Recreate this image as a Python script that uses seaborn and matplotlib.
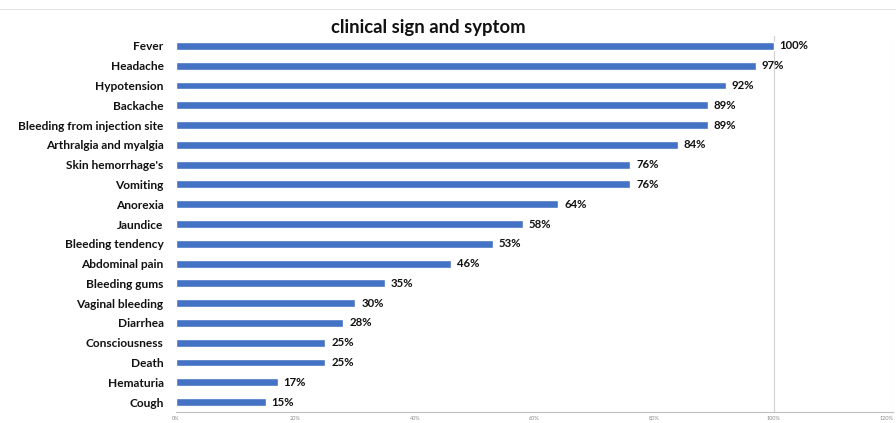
import matplotlib
matplotlib.use("Agg")
import matplotlib.pyplot as plt
from matplotlib.lines import Line2D
import seaborn as sns
import pandas as pd

symptoms = [
    "Fever", "Headache", "Hypotension", "Backache", "Bleeding from injection site",
    "Arthralgia and myalgia", "Skin hemorrhage's", "Vomiting", "Anorexia", "Jaundice",
    "Bleeding tendency", "Abdominal pain", "Bleeding gums", "Vaginal bleeding",
    "Diarrhea", "Consciousness", "Death", "Hematuria", "Cough",
]
percent = [100, 97, 92, 89, 89, 84, 76, 76, 64, 58, 53, 46, 35, 30, 28, 25, 25, 17, 15]
x_ticks = [0, 20, 40, 60, 80, 100, 120]
x_tick_labels = ["0%", "20%", "40%", "60%", "80%", "100%", "120%"]

df = pd.DataFrame({"symptom": symptoms, "percent": percent})

sns.set_theme(style="white")
plt.rcParams["font.family"] = ["Lato", "DejaVu Sans"]

fig = plt.figure(figsize=(8.96, 4.23), dpi=100)
ax = fig.add_axes([176 / 896, 1 - 412 / 423, 717 / 896, 376 / 423])

sns.barplot(data=df, x="percent", y="symptom", color="#4472C4", width=0.4,
            saturation=1, ax=ax, orient="h")

ax.set_xlim(0, 120)
ax.set_ylim(18.5, -0.5)
ax.set_xlabel("")
ax.set_ylabel("")
ax.set_xticks(x_ticks)
ax.set_xticklabels(x_tick_labels, fontsize=4, color="#888888")
ax.get_xticklabels()[-1].set_horizontalalignment("right")
ax.tick_params(axis="x", length=0, pad=3)
ax.tick_params(axis="y", length=0, pad=9)
for lbl in ax.get_yticklabels():
    lbl.set_fontsize(8.6)
    lbl.set_fontweight("bold")
    lbl.set_color("#111111")

for side in ["top", "left", "right"]:
    ax.spines[side].set_visible(False)
ax.spines["bottom"].set_color("#bfbfbf")
ax.spines["bottom"].set_linewidth(0.8)

for gx in (100, 120):
    ax.axvline(gx, color="#d0d0d0", lw=0.8, zorder=0)

for i, v in enumerate(percent):
    ax.text(v + 1.0, i, f"{v}%", va="center", ha="left", fontsize=8.2,
            fontweight="bold", color="#111111")

fig.text(428 / 896, 1 - 27 / 423, "clinical sign and syptom", ha="center", va="center",
         fontsize=13.3, fontweight="bold", color="#111111")

fig.add_artist(Line2D([0, 1], [1 - 9 / 423, 1 - 9 / 423], transform=fig.transFigure,
                      color="#e6e6e6", lw=0.8))

fig.savefig("out.png", dpi=100, facecolor="white")
